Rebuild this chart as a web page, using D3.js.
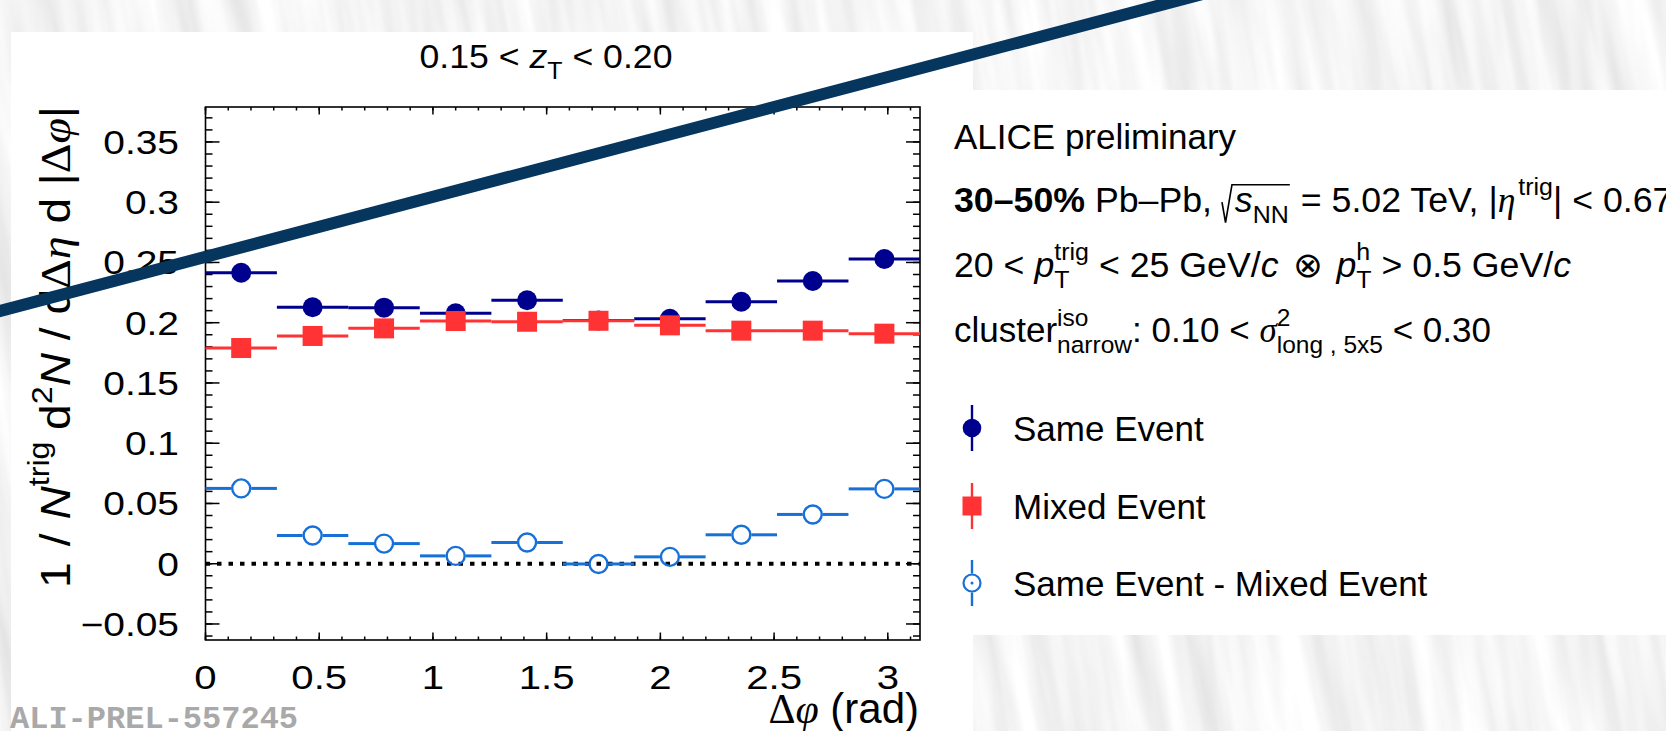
<!DOCTYPE html>
<html><head><meta charset="utf-8">
<script src="https://cdn.jsdelivr.net/npm/d3@7"></script>
<style>html,body{margin:0;padding:0;background:#fff;overflow:hidden} text{white-space:pre}</style>
</head><body>
<svg id="c" width="1666" height="731"></svg>
<script>
// Δφ binning (rad): 10 bins over [0, π]
const binCenters   = [0.157, 0.471, 0.785, 1.100, 1.414, 1.728, 2.042, 2.356, 2.670, 2.985];
const binHalfWidth = 0.157;

// per-trigger yields 1/N^trig d²N/dΔη d|Δφ|
const sameEvent  = [0.2415, 0.2128, 0.2125, 0.2078, 0.2186, 0.2018, 0.2033, 0.2174, 0.2346, 0.2529];
const mixedEvent = [0.1790, 0.1890, 0.1953, 0.2014, 0.2008, 0.2016, 0.1978, 0.1934, 0.1934, 0.1909];
const subtracted = [0.0625, 0.0234, 0.0167, 0.0065, 0.0176, -0.0002, 0.0057, 0.0240, 0.0409, 0.0621];

const xTicks      = [0, 0.5, 1, 1.5, 2, 2.5, 3];
const xTickLabels = ["0", "0.5", "1", "1.5", "2", "2.5", "3"];
const yTicks      = [-0.05, 0, 0.05, 0.1, 0.15, 0.2, 0.25, 0.3, 0.35];
const yTickLabels = ["\u22120.05", "0", "0.05", "0.1", "0.15", "0.2", "0.25", "0.3", "0.35"];

const seriesNames  = ["Same Event", "Mixed Event", "Same Event - Mixed Event"];
const seriesColors = ["#00008f", "#ff3333", "#1670d8"];

const W = 1666, H = 731;
const frame = {l: 205.5, r: 920, t: 107, b: 640};
const SANS = "'Liberation Sans', Arial, Helvetica, sans-serif";
const SERIF = "'Liberation Serif', 'Times New Roman', serif";

const svg = d3.select("#c");
const defs = svg.append("defs");

// slide backdrop: streaky light-grey texture
const flt = defs.append("filter").attr("id", "streaks")
  .attr("filterUnits", "userSpaceOnUse")
  .attr("x", -400).attr("y", -600).attr("width", 2600).attr("height", 2000);
flt.append("feTurbulence").attr("type", "fractalNoise")
  .attr("baseFrequency", "0.04 0.003").attr("numOctaves", 4).attr("seed", 11);
flt.append("feColorMatrix").attr("type", "matrix")
  .attr("values", "0.38 0 0 0 0.72  0.38 0 0 0 0.72  0.38 0 0 0 0.72  0 0 0 0 1");
flt.append("feGaussianBlur").attr("stdDeviation", 1);
svg.append("g").attr("transform", `rotate(-10 ${W/2} ${H/2})`)
  .append("rect").attr("x", -400).attr("y", -600).attr("width", 2600).attr("height", 2000)
  .attr("filter", "url(#streaks)");

// white panels
svg.append("rect").attr("x", 11).attr("y", 32).attr("width", 962).attr("height", H - 32).attr("fill", "#fff");
svg.append("rect").attr("x", 973).attr("y", 90).attr("width", W - 973).attr("height", 545).attr("fill", "#fff");

// ---------- rich text helper (sub/superscripts, italics, radicals) ----------
function rich(parent, runs, size) {
  const g = parent.append("g");
  let x = 0;
  function put(t, xx, yy, sz, r) {
    const el = g.append("text").attr("x", xx).attr("y", yy)
      .attr("xml:space", "preserve")
      .style("font-family", r.serif ? SERIF : SANS)
      .style("font-size", sz + "px")
      .style("font-style", r.it ? "italic" : "normal")
      .style("font-weight", r.b ? "bold" : "normal")
      .attr("fill", "#000").text(t);
    return el.node().getComputedTextLength();
  }
  function walk(list) {
    for (const r of list) {
      if (r.dx) x += r.dx * size;
      if (r.sqrt) {
        const s = x;
        x += 0.36 * size;
        walk(r.sqrt);
        g.append("path").attr("fill", "none").attr("stroke", "#000").attr("stroke-width", 1.6)
          .attr("d", `M${s},${-0.28*size} L${s+0.1*size},${0.3*size} L${s+0.28*size},${-0.78*size} L${x+0.03*size},${-0.78*size}`);
        x += 0.06 * size;
        continue;
      }
      if (r.t != null) x += put(r.t, x, 0, size, r);
      if (r.sup != null || r.sub != null) {
        let w = 0;
        const sr = {it: r.sit, serif: r.sserif};
        if (r.sup != null) w = Math.max(w, put(r.sup, x + (r.supdx || 0) * size, -(r.supy || 0.45) * size, size * 0.7, sr));
        if (r.sub != null) w = Math.max(w, put(r.sub, x + (r.subdx || 0) * size, (r.suby || 0.3) * size, size * 0.7, sr));
        x += w + (r.after || 0) * size;
      }
    }
  }
  walk(runs);
  return {g, width: x};
}

// ---------- scales ----------
const x = d3.scaleLinear().domain([0, Math.PI]).range([frame.l, frame.r]);
const y = d3.scaleLinear().domain([-0.0633, 0.379]).range([frame.b, frame.t]);

const plot = svg.append("g");

// ticks, ROOT style: inward on all four sides
function tickLines(vals, len, horizontal) {
  vals.forEach(v => {
    if (horizontal) {
      const px = x(v);
      plot.append("line").attr("x1", px).attr("x2", px).attr("y1", frame.b).attr("y2", frame.b - len);
      plot.append("line").attr("x1", px).attr("x2", px).attr("y1", frame.t).attr("y2", frame.t + len);
    } else {
      const py = y(v);
      plot.append("line").attr("y1", py).attr("y2", py).attr("x1", frame.l).attr("x2", frame.l + len);
      plot.append("line").attr("y1", py).attr("y2", py).attr("x1", frame.r).attr("x2", frame.r - len);
    }
  });
}
const xMinor = d3.range(0, 32).map(i => i * 0.1).filter(v => v <= Math.PI);
const yMinor = d3.range(-6, 38).map(i => i * 0.01);
tickLines(xMinor, 3.5, true);
tickLines(xTicks, 7.5, true);
tickLines(yMinor, 7, false);
tickLines(yTicks, 14, false);
plot.selectAll("line").attr("stroke", "#000").attr("stroke-width", 1.5);

// zero reference
plot.append("line").attr("x1", frame.l).attr("x2", frame.r).attr("y1", y(0)).attr("y2", y(0))
  .attr("stroke", "#000").attr("stroke-width", 4).attr("stroke-dasharray", "4.5 7");

plot.append("rect").attr("x", frame.l).attr("y", frame.t)
  .attr("width", frame.r - frame.l).attr("height", frame.b - frame.t)
  .attr("fill", "none").attr("stroke", "#000").attr("stroke-width", 1.6);

// tick labels
yTicks.forEach((v, i) => {
  plot.append("text").attr("transform", `translate(179,${y(v)}) scale(1.18,1)`)
    .attr("dy", "0.36em").attr("text-anchor", "end")
    .style("font-family", SANS).style("font-size", "33px").text(yTickLabels[i]);
});
xTicks.forEach((v, i) => {
  plot.append("text").attr("transform", `translate(${x(v)},689) scale(1.18,1)`)
    .attr("text-anchor", "middle")
    .style("font-family", SANS).style("font-size", "34px").text(xTickLabels[i]);
});

// ---------- data ----------
const R = 10;
function drawSeries(vals, k) {
  const col = seriesColors[k];
  const g = plot.append("g");
  vals.forEach((v, i) => {
    const cx = x(binCenters[i]), cy = y(v);
    const x0 = x(binCenters[i] - binHalfWidth), x1 = x(binCenters[i] + binHalfWidth);
    if (k === 2) {
      g.append("line").attr("x1", x0).attr("x2", cx - R).attr("y1", cy).attr("y2", cy);
      g.append("line").attr("x1", cx + R).attr("x2", x1).attr("y1", cy).attr("y2", cy);
    } else {
      g.append("line").attr("x1", x0).attr("x2", x1).attr("y1", cy).attr("y2", cy);
    }
  });
  g.selectAll("line").attr("stroke", col).attr("stroke-width", 3);
  vals.forEach((v, i) => {
    const cx = x(binCenters[i]), cy = y(v);
    if (k === 0) g.append("circle").attr("cx", cx).attr("cy", cy).attr("r", R).attr("fill", col);
    else if (k === 1) g.append("rect").attr("x", cx - R).attr("y", cy - R).attr("width", 2 * R).attr("height", 2 * R).attr("fill", col);
    else g.append("circle").attr("cx", cx).attr("cy", cy).attr("r", R - 1).attr("fill", "none").attr("stroke", col).attr("stroke-width", 2.4);
  });
}
drawSeries(sameEvent, 0);
drawSeries(mixedEvent, 1);
drawSeries(subtracted, 2);

// ---------- axis titles ----------
const tTitle = rich(svg, [
  {t: "0.15 < "}, {t: "z", it: true}, {sub: "T", suby: 0.32}, {t: " < 0.20"}
], 33);
tTitle.g.attr("transform", `translate(${546 - tTitle.width * 1.08 / 2},68) scale(1.08,1)`);

const yTitle = rich(svg, [
  {t: "1"}, {dx: 0.35}, {t: "/"}, {dx: 0.3}, {t: "N", it: true}, {sup: "trig", supy: 0.5, after: 0.25},
  {t: "d"}, {sup: "2", supy: 0.42}, {t: "N", it: true}, {t: " / d"},
  {t: "\u0394", serif: true}, {t: "\u03B7", serif: true, it: true}, {t: " d |"},
  {t: "\u0394", serif: true}, {t: "\u03C6", serif: true, it: true}, {t: "|"}
], 42);
const yStart = 588, yEnd = 106;
yTitle.g.attr("transform", `translate(70,${yStart}) rotate(-90) scale(${(yStart - yEnd) / yTitle.width},1)`);

const xTitle = rich(svg, [
  {t: "\u0394", serif: true}, {t: "\u03C6", serif: true, it: true}, {t: " (rad)"}
], 42);
xTitle.g.attr("transform", `translate(${919 - xTitle.width},723)`);

// ---------- description ----------
const FS = 35;
const lines = [
  [{t: "ALICE preliminary"}],
  [{t: "30\u201350%", b: true}, {t: " Pb\u2013Pb, "},
   {sqrt: [{t: "s", it: true}, {sub: "NN", suby: 0.3}]},
   {t: " = 5.02 TeV, |"}, {t: "\u03B7", serif: true, it: true}, {sup: "trig", supy: 0.48, supdx: 0.08, after: 0.08}, {t: "| < 0.67"}],
  [{t: "20 < "}, {t: "p", it: true}, {sup: "trig", sub: "T", supy: 0.48, suby: 0.3}, {t: " < 25 GeV/"}, {t: "c", it: true},
   {dx: 0.12}, {t: " \u2297 "}, {dx: 0.12}, {t: "p", it: true}, {sup: "h", sub: "T", supy: 0.48, suby: 0.3}, {t: " > 0.5 GeV/"}, {t: "c", it: true}],
  [{t: "cluster"}, {sup: "iso", sub: "narrow", supy: 0.45, suby: 0.3}, {t: ": 0.10 < "},
   {t: "\u03C3", serif: true, it: true}, {sup: "2", sub: "long , 5x5", supy: 0.45, suby: 0.3}, {t: " < 0.30"}]
];
const lineBase  = [149, 212, 277, 342];
const lineScale = [1, 1.02, 1.02, 1];
lines.forEach((runs, i) => {
  const r = rich(svg, runs, FS);
  r.g.attr("transform", `translate(954,${lineBase[i]}) scale(${lineScale[i]},1)`);
});

// ---------- legend ----------
const legY = [428, 506, 583];
const leg = svg.append("g");
seriesNames.forEach((name, k) => {
  const cy = legY[k], cx = 972, col = seriesColors[k];
  const lg = leg.append("g");
  if (k === 2) {
    lg.append("line").attr("x1", cx).attr("x2", cx).attr("y1", cy - 23).attr("y2", cy - 9.5);
    lg.append("line").attr("x1", cx).attr("x2", cx).attr("y1", cy + 9.5).attr("y2", cy + 23);
  } else {
    lg.append("line").attr("x1", cx).attr("x2", cx).attr("y1", cy - 23).attr("y2", cy + 23);
  }
  lg.selectAll("line").attr("stroke-width", 2.4).attr("stroke", col);
  if (k === 0) lg.append("circle").attr("cx", cx).attr("cy", cy).attr("r", 9.3).attr("fill", col);
  else if (k === 1) lg.append("rect").attr("x", cx - 9.5).attr("y", cy - 9.5).attr("width", 19).attr("height", 19).attr("fill", col);
  else {
    lg.append("circle").attr("cx", cx).attr("cy", cy).attr("r", 8.5).attr("fill", "none").attr("stroke", col).attr("stroke-width", 2.2);
    lg.append("circle").attr("cx", cx).attr("cy", cy).attr("r", 1.5).attr("fill", col);
  }
  lg.append("text").attr("x", 1013).attr("y", cy + 12.5)
    .style("font-family", SANS).style("font-size", FS + "px").text(name);
});

// preliminary-figure identifier
svg.append("text").attr("x", 10).attr("y", 728)
  .style("font-family", "'Liberation Mono', 'Courier New', monospace").style("font-weight", "bold")
  .style("font-size", "32px").attr("fill", "#a9a9a9").text("ALI-PREL-557245");

// slide decoration: diagonal navy rule across the upper left
const rule = d3.line()([[-20, 311 + 20 * 0.2636], [1250, 311 - 1250 * 0.2636]]);
svg.append("path").attr("d", rule).attr("stroke", "#06365e").attr("stroke-width", 12).attr("fill", "none");
</script>
</body></html>
